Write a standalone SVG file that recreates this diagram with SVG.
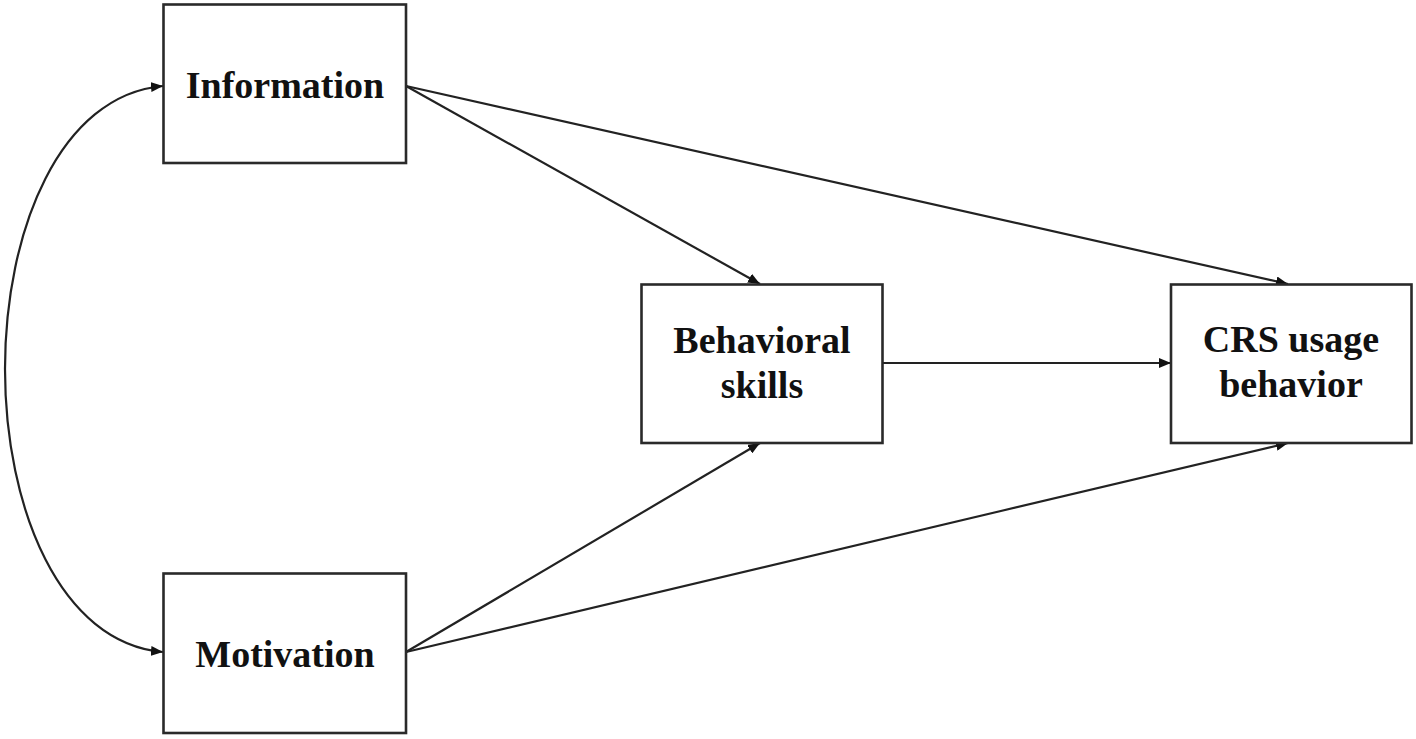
<svg xmlns="http://www.w3.org/2000/svg" width="1416" height="739" viewBox="0 0 1416 739">
<style>
.box{fill:#fff;stroke:#2a2a2a;stroke-width:2.6}
.lbl{font-family:"Liberation Serif","Times New Roman",serif;font-weight:bold;font-size:38px;fill:#111;text-anchor:middle}
.con{fill:none;stroke:#222;stroke-width:2.2;marker-end:url(#ah)}
</style>
<defs>
<marker id="ah" viewBox="0 0 12 10" refX="12" refY="5" markerWidth="12" markerHeight="10" markerUnits="userSpaceOnUse" orient="auto-start-reverse">
<path d="M0,0 L12,5 L0,10 Z" fill="#111"/>
</marker>
</defs>
<rect width="1416" height="739" fill="#fff"/>
<g id="connectors">
<path class="con" d="M406,86 L760,284"/>
<path class="con" d="M406,86 L1288,284"/>
<path class="con" d="M883,363 L1171,363"/>
<path class="con" d="M406,652 L760,443"/>
<path class="con" d="M406,652 L1288,443"/>
<path class="con" d="M163,86 C60,95 5,230 5,369 C5,508 60,643 163,652" marker-start="url(#ah)"/>
</g>
<g id="information">
<rect class="box" x="163.5" y="4.5" width="242.5" height="158.5"/>
<text class="lbl" x="285" y="98">Information</text>
</g>
<g id="motivation">
<rect class="box" x="163.5" y="573.5" width="242.5" height="159.5"/>
<text class="lbl" x="285" y="667">Motivation</text>
</g>
<g id="behavioral-skills">
<rect class="box" x="641.5" y="284.5" width="241" height="158.5"/>
<text class="lbl" x="762" y="353">Behavioral</text>
<text class="lbl" x="762" y="398">skills</text>
</g>
<g id="crs-usage-behavior">
<rect class="box" x="1171" y="284.5" width="240.5" height="158.5"/>
<text class="lbl" x="1291" y="352">CRS usage</text>
<text class="lbl" x="1291" y="397">behavior</text>
</g>
</svg>
